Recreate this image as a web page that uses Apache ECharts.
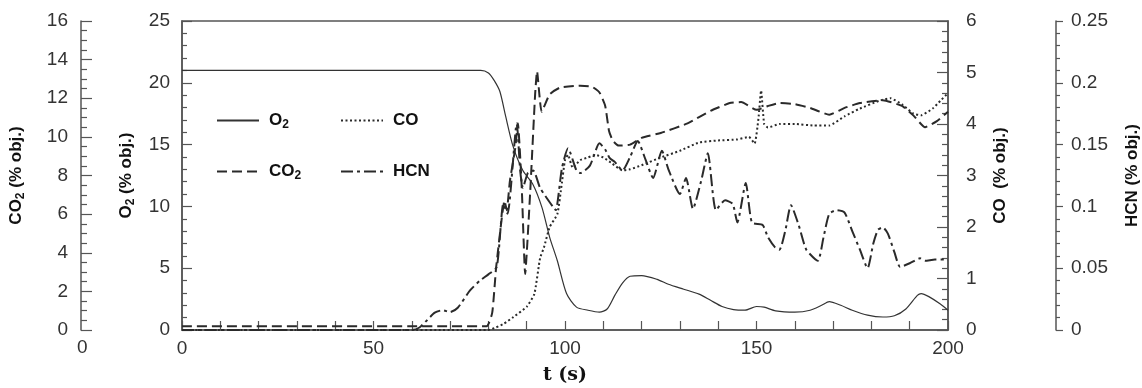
<!DOCTYPE html>
<html>
<head>
<meta charset="utf-8">
<script src="https://cdn.jsdelivr.net/npm/echarts@6/dist/echarts.min.js"></script>
<style>
  html, body { margin: 0; padding: 0; background: #fff; overflow: hidden; }
  #chart { width: 1142px; height: 388px; }
</style>
</head>
<body>
<div id="chart"></div>
<script>
// [t (s), value]
const o2Data = [
  [0, 21], [78, 21], [80, 20.8], [81.5, 20.2], [83, 19.3], [84.5, 17.3], [86.4, 14.9],
  [89, 12.9], [91.6, 11.8], [94, 9.9], [96, 7.5], [98, 5.6], [100.4, 2.95], [103, 1.85],
  [106, 1.6], [109, 1.45], [111, 1.7], [113, 2.8], [115, 3.8], [117, 4.35], [120, 4.4],
  [124, 4.1], [127, 3.7], [131, 3.3], [135, 2.9], [138, 2.4], [141, 1.9], [144, 1.65],
  [147, 1.6], [150, 1.9], [152, 1.85], [155, 1.55], [160, 1.45], [164, 1.6], [167, 2.0],
  [169, 2.3], [172, 2.0], [175, 1.6], [179, 1.2], [183, 1.05], [186, 1.15], [189, 1.7],
  [192, 2.8], [193, 2.95], [195, 2.7], [198, 2.1], [200, 1.6]
];
const co2Data = [
  [0, 0.2], [79.5, 0.2], [81, 0.9], [82, 3.2], [83.5, 5.8], [84.2, 6.7], [84.8, 6.2],
  [85.6, 7.7], [87, 9.4], [87.7, 10.7], [88.7, 7.4], [89.6, 2.9], [90.9, 7.1], [92.2, 12.2],
  [92.7, 13.4], [93.9, 11.3], [96, 12.2], [98.7, 12.55], [104, 12.65], [107, 12.6],
  [109, 12.3], [110.5, 11.6], [111.5, 10.3], [112.5, 9.8], [114, 9.55], [117, 9.6],
  [120, 9.95], [125, 10.2], [132, 10.7], [138, 11.35], [143, 11.75], [146, 11.8],
  [150, 11.4], [153, 11.6], [156, 11.75], [160, 11.7], [164, 11.5], [169, 11.15],
  [173, 11.5], [177, 11.75], [183, 11.9], [188, 11.6], [191, 11.1], [194, 10.5],
  [197, 10.8], [200, 11.3]
];
const coData = [
  [0, 0], [80, 0], [82, 0.05], [84, 0.12], [86.5, 0.25], [90, 0.45], [92, 0.7], [93.5, 1.4],
  [94.5, 1.6], [96, 2.0], [98, 2.25], [99, 2.75], [100, 3.3], [100.8, 3.4], [102, 3.15],
  [104, 3.3], [106, 3.35], [108, 3.4], [110, 3.35], [112, 3.25], [115, 3.1], [117, 3.12],
  [120, 3.2], [125, 3.35], [130, 3.48], [135, 3.64], [140, 3.68], [145, 3.7], [148, 3.75],
  [149.5, 3.62], [150.5, 4.1], [151.2, 4.65], [152, 4.0], [153, 3.93], [156, 4.0],
  [160, 4.0], [165, 3.97], [169, 3.97], [173, 4.15], [177, 4.3], [182, 4.45], [185, 4.5],
  [188, 4.38], [191, 4.2], [193, 4.17], [196, 4.3], [198, 4.45], [200, 4.6]
];
const hcnData = [
  [0, 0], [60, 0], [62, 0.002], [64, 0.008], [66, 0.014], [68, 0.016], [70, 0.0145],
  [72, 0.018], [75.2, 0.032], [77.8, 0.04], [80, 0.045], [82.2, 0.051], [83.9, 0.102],
  [85, 0.094], [87.4, 0.167], [88.3, 0.129], [89, 0.115], [90.3, 0.127], [91.7, 0.129],
  [93.5, 0.115], [97, 0.099], [97.6, 0.097], [99.2, 0.131], [100.8, 0.147], [103, 0.129],
  [104, 0.127], [106.5, 0.133], [109, 0.151], [110.5, 0.146], [111.7, 0.139], [113, 0.136],
  [115, 0.129], [117, 0.14], [119, 0.153], [121, 0.138], [123, 0.123], [125.3, 0.145],
  [127, 0.13], [130, 0.11], [131.6, 0.123], [133.4, 0.098], [135.5, 0.12], [137.3, 0.143],
  [139.4, 0.097], [141.8, 0.105], [143.8, 0.102], [145, 0.087], [147.2, 0.119],
  [148.8, 0.087], [151.6, 0.085], [153, 0.075], [154.8, 0.067], [156, 0.065],
  [157.5, 0.08], [159, 0.101], [161, 0.085], [163, 0.065], [166, 0.056], [167.5, 0.075],
  [169, 0.094], [171, 0.097], [173, 0.095], [175, 0.08], [177, 0.065], [179, 0.05],
  [180.5, 0.07], [181.7, 0.081], [183, 0.083], [184.3, 0.078], [186, 0.063],
  [187.5, 0.051], [190, 0.054], [192.7, 0.058], [194, 0.056], [196.6, 0.057], [200, 0.057]
];

const font = "'Liberation Sans', Arial, sans-serif";
const axisColor = "#555";
const rich = {
  b: { fontSize: 17, fontWeight: "bold", color: "#111", fontFamily: font },
  s: { fontSize: 12, fontWeight: "bold", color: "#111", fontFamily: font, padding: [9, 0, 0, 0] },
};
const labelText = {
  O2: "{b|O}{s|2}",
  CO2: "{b|CO}{s|2}",
  CO: "{b|CO}",
  HCN: "{b|HCN}",
};

function yAxis(opt) {
  return {
    type: "value",
    position: opt.position,
    offset: opt.offset,
    min: opt.min,
    max: opt.max,
    interval: opt.interval,
    name: opt.name,
    nameLocation: "middle",
    nameRotate: 90,
    nameGap: opt.nameGap,
    nameTextStyle: { rich },
    axisLine: { show: true, lineStyle: { color: axisColor, width: 1.5 } },
    axisTick: { show: true, inside: opt.inside, length: opt.tickLen, lineStyle: { color: axisColor, width: 1.2 } },
    minorTick: { show: true, splitNumber: opt.split, length: opt.minorLen, lineStyle: { color: axisColor, width: 1.2 } },
    splitLine: { show: false },
    axisLabel: { fontSize: 19, color: "#333", fontFamily: font, margin: opt.margin },
  };
}

function legendAt(name, left, top) {
  return {
    data: [name],
    left,
    top,
    padding: 0,
    itemWidth: 42,
    itemHeight: 14,
    itemStyle: { opacity: 0 },
    formatter: (n) => labelText[n],
    textStyle: { rich, padding: [0, 0, 0, 5] },
  };
}

const chart = echarts.init(document.getElementById("chart"), null, { width: 1142, height: 388 });
chart.setOption({
  animation: false,
  grid: {
    left: 182, right: 194, top: 21, bottom: 58, containLabel: false,
    outerBoundsMode: "none",
    show: true, borderColor: axisColor, borderWidth: 1.5,
  },
  legend: [
    legendAt("O2", 216, 112),
    legendAt("CO", 340, 112),
    legendAt("CO2", 216, 163),
    legendAt("HCN", 340, 163),
  ],
  graphic: [
    {
      type: "text",
      left: 77,
      top: 338,
      style: { text: "0", fontSize: 19, fill: "#333", fontFamily: font },
    },
  ],
  xAxis: {
    type: "value",
    min: 0,
    max: 200,
    interval: 50,
    name: "t (s)",
    nameLocation: "middle",
    nameGap: 36,
    nameTextStyle: { fontSize: 19, fontWeight: "bold", color: "#111", fontFamily: "'DejaVu Serif', serif" },
    axisLine: { lineStyle: { color: axisColor, width: 1.5 } },
    axisTick: { inside: true, length: 9, lineStyle: { color: axisColor, width: 1.2 } },
    minorTick: { show: true, splitNumber: 5, length: 9, lineStyle: { color: axisColor, width: 1.2 } },
    splitLine: { show: false },
    axisLabel: { fontSize: 19, color: "#333", fontFamily: font, margin: 9 },
  },
  yAxis: [
    yAxis({ position: "left", offset: 0, min: 0, max: 25, interval: 5, split: 5, inside: true,
      tickLen: 10, minorLen: 5, margin: 12, nameGap: 45, name: "{b|O}{s|2}{b| (% obj.)}" }),
    yAxis({ position: "left", offset: 101, min: 0, max: 16, interval: 2, split: 4, inside: true,
      tickLen: 11, minorLen: 6, margin: 13, nameGap: 54, name: "{b|CO}{s|2}{b| (% obj.)}" }),
    yAxis({ position: "right", offset: 0, min: 0, max: 6, interval: 1, split: 5, inside: true,
      tickLen: 11, minorLen: 6, margin: 18, nameGap: 44, name: "{b|CO  (% obj.)}" }),
    yAxis({ position: "right", offset: 108, min: 0, max: 0.25, interval: 0.05, split: 5, inside: false,
      tickLen: 7, minorLen: 4, margin: 15, nameGap: 68, name: "{b|HCN (% obj.)}" }),
  ],
  series: [
    {
      name: "O2",
      type: "line",
      yAxisIndex: 0,
      data: o2Data,
      symbol: "none",
      smooth: 0.25,
      lineStyle: { color: "#333", width: 1.2, type: "solid" },
    },
    {
      name: "CO2",
      type: "line",
      yAxisIndex: 1,
      data: co2Data,
      symbol: "none",
      smooth: 0.15,
      lineStyle: { color: "#2a2a2a", width: 2, type: [10, 5] },
    },
    {
      name: "CO",
      type: "line",
      yAxisIndex: 2,
      data: coData,
      symbol: "none",
      smooth: 0.15,
      lineStyle: { color: "#2a2a2a", width: 2, type: [2, 2.5] },
    },
    {
      name: "HCN",
      type: "line",
      yAxisIndex: 3,
      data: hcnData,
      symbol: "none",
      smooth: 0.2,
      lineStyle: { color: "#2a2a2a", width: 2, type: [12, 4, 3, 4] },
    },
  ],
});
</script>
</body>
</html>
